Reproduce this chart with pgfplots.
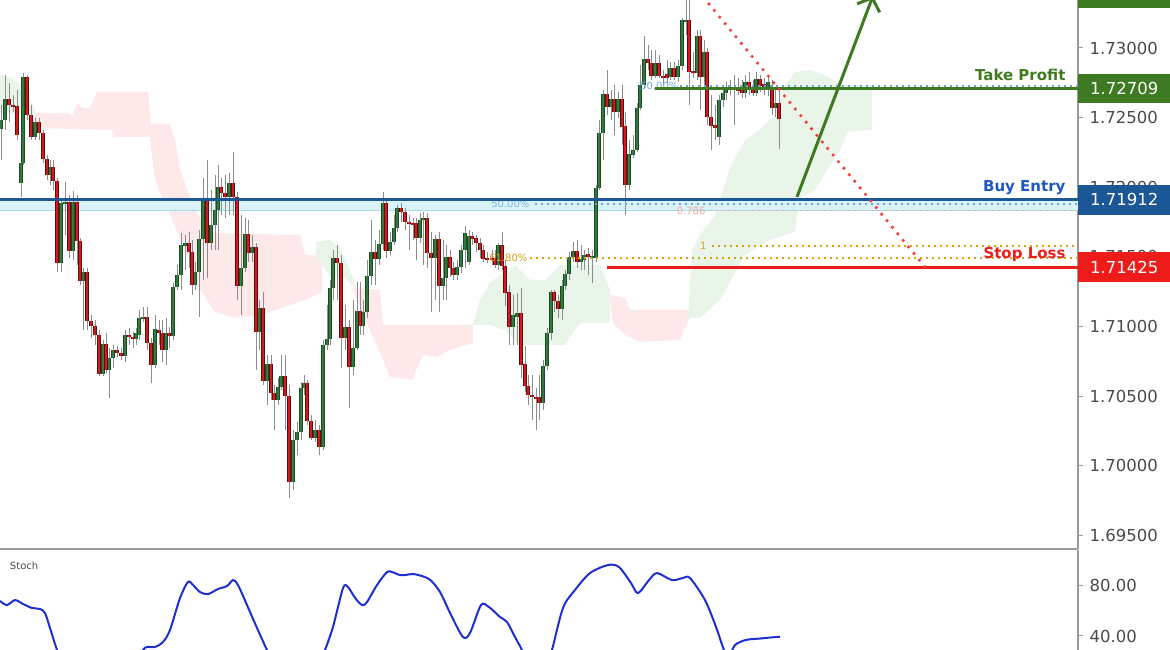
\documentclass[border=0pt]{standalone}
\usepackage{pgfplots}
\pgfplotsset{compat=1.18}
\usepackage{pgfplotstable}
\usepackage{fontspec}
\setmainfont{DejaVu Sans}
\usetikzlibrary{arrows.meta}
\definecolor{upc}{HTML}{2F7A3C}
\definecolor{upd}{HTML}{1D4A25}
\definecolor{dnc}{HTML}{D21A1F}
\definecolor{dnd}{HTML}{5E0B0D}
\definecolor{wick}{HTML}{8C8C8C}
\definecolor{tpg}{HTML}{3D7A22}
\definecolor{tpt}{HTML}{3F7A1E}
\definecolor{beb}{HTML}{1B5797}
\definecolor{bet}{HTML}{1E56C6}
\definecolor{slr}{HTML}{EE1B1B}
\definecolor{cloudr}{HTML}{FDE9E9}
\definecolor{cloudg}{HTML}{EAF5E9}
\definecolor{band}{HTML}{D8F4F8}
\definecolor{bandb}{HTML}{A9DDE5}
\definecolor{fibblue}{HTML}{6FA8DC}
\definecolor{fibgold}{HTML}{D4A21A}
\definecolor{fibpink}{HTML}{F2A6A6}
\definecolor{axisgray}{HTML}{9A9A9A}
\definecolor{ticktext}{HTML}{4A4A4A}
\definecolor{stochc}{HTML}{1F2FCF}
\definecolor{dotred}{HTML}{F23F3F}

\pgfplotstableread{
x h l bt bb
1 1.72591 1.72197 1.72484 1.72419
5 1.72807 1.72412 1.72634 1.72484
21 1.72254 1.71931 1.72175 1.72032
23 1.72821 1.72161 1.72792 1.72175
35 1.72498 1.72340 1.72469 1.72362
50 1.72197 1.72017 1.72146 1.72089
61 1.71910 1.71393 1.71888 1.71457
65 1.72039 1.71658 1.71895 1.71881
73 1.71974 1.71479 1.71895 1.71544
83 1.71422 1.70977 1.71393 1.71328
103 1.70905 1.70646 1.70876 1.70661
109 1.70847 1.70489 1.70776 1.70689
113 1.70869 1.70704 1.70833 1.70776
125 1.70977 1.70747 1.70941 1.70790
136 1.70991 1.70869 1.70955 1.70912
139 1.71120 1.70905 1.71063 1.70941
143 1.71142 1.71034 1.71070 1.71055
155 1.71084 1.70704 1.70984 1.70725
166 1.71063 1.70725 1.70955 1.70833
173 1.71314 1.70905 1.71285 1.70933
177 1.71443 1.71264 1.71371 1.71285
181 1.71673 1.71264 1.71587 1.71371
185 1.71658 1.71407 1.71601 1.71579
195 1.71465 1.71264 1.71393 1.71300
199 1.71694 1.71070 1.71630 1.71393
203 1.72067 1.71335 1.71902 1.71630
211 1.71981 1.71551 1.71730 1.71601
215 1.72089 1.71551 1.71838 1.71730
218 1.72161 1.71551 1.72003 1.71838
229 1.72103 1.71802 1.72032 1.71931
241 1.71802 1.71084 1.71422 1.71292
245 1.71780 1.71393 1.71666 1.71422
252 1.71658 1.71465 1.71572 1.71529
259 1.71192 1.70833 1.71134 1.70962
267 1.70797 1.70438 1.70733 1.70611
278 1.70632 1.70438 1.70567 1.70474
281 1.70797 1.70546 1.70646 1.70567
293 1.70259 1.69828 1.70187 1.69886
297 1.70316 1.70079 1.70245 1.70187
301 1.70603 1.70187 1.70560 1.70245
304 1.70654 1.70510 1.70596 1.70560
315 1.70331 1.70173 1.70259 1.70201
323 1.70905 1.70115 1.70869 1.70137
327 1.71156 1.70833 1.70912 1.70869
330 1.71335 1.70869 1.71278 1.70912
333 1.71551 1.71192 1.71493 1.71278
345 1.71156 1.70833 1.70998 1.70919
353 1.71192 1.70654 1.70847 1.70711
357 1.71321 1.70833 1.71113 1.70847
363 1.71192 1.70941 1.71106 1.71005
367 1.71479 1.71063 1.71364 1.71106
371 1.71766 1.71300 1.71536 1.71364
379 1.71694 1.71443 1.71594 1.71486
383 1.71967 1.71551 1.71888 1.71594
390 1.71680 1.71515 1.71608 1.71544
394 1.71802 1.71587 1.71709 1.71608
397 1.71874 1.71680 1.71852 1.71709
420 1.71816 1.71601 1.71766 1.71637
423 1.71823 1.71443 1.71780 1.71766
435 1.71658 1.71192 1.71630 1.71493
443 1.71623 1.71192 1.71350 1.71292
446 1.71587 1.71192 1.71500 1.71350
457 1.71479 1.71335 1.71429 1.71371
461 1.71587 1.71386 1.71551 1.71429
465 1.71723 1.71422 1.71673 1.71551
469 1.71694 1.71443 1.71651 1.71465
498 1.71601 1.71407 1.71587 1.71443
513 1.71228 1.70869 1.71084 1.70998
517 1.71242 1.70869 1.71099 1.71070
543 1.70761 1.70402 1.70718 1.70453
547 1.70991 1.70689 1.70955 1.70718
551 1.71264 1.70905 1.71249 1.70955
562 1.71335 1.71048 1.71292 1.71127
565 1.71407 1.71264 1.71379 1.71292
569 1.71536 1.71335 1.71500 1.71379
573 1.71608 1.71465 1.71544 1.71500
581 1.71587 1.71407 1.71486 1.71465
584 1.71551 1.71407 1.71515 1.71479
592 1.71551 1.71314 1.71508 1.71493
596 1.72017 1.71465 1.71996 1.71493
599 1.72484 1.71981 1.72390 1.71996
603 1.72699 1.72197 1.72670 1.72390
611 1.72699 1.72484 1.72634 1.72577
618 1.72685 1.72498 1.72634 1.72541
629 1.72340 1.71981 1.72240 1.72017
633 1.72376 1.72211 1.72268 1.72233
637 1.72606 1.72254 1.72570 1.72268
640 1.72878 1.72555 1.72735 1.72570
644 1.73087 1.72713 1.72922 1.72735
655 1.72986 1.72785 1.72893 1.72800
670 1.72900 1.72771 1.72857 1.72792
678 1.72914 1.72756 1.72871 1.72792
682 1.73216 1.72843 1.73202 1.72871
686 1.73345 1.73094 1.73202 1.73187
697 1.73130 1.72771 1.73087 1.72821
704 1.73058 1.72699 1.72972 1.72792
719 1.72663 1.72304 1.72627 1.72362
723 1.72713 1.72577 1.72677 1.72627
726 1.72756 1.72627 1.72706 1.72677
730 1.72771 1.72663 1.72713 1.72699
745 1.72807 1.72642 1.72756 1.72677
756 1.72828 1.72656 1.72778 1.72677
768 1.72807 1.72656 1.72756 1.72713
775 1.72699 1.72505 1.72606 1.72570
}\upcandles

\pgfplotstableread{
x h l bt bb
9 1.72749 1.72469 1.72634 1.72591
13 1.72663 1.72541 1.72591 1.72577
17 1.72699 1.72340 1.72584 1.72376
27 1.72807 1.72484 1.72792 1.72520
31 1.72591 1.72340 1.72520 1.72362
39 1.72498 1.72340 1.72469 1.72390
43 1.72412 1.72175 1.72390 1.72204
47 1.72233 1.72053 1.72204 1.72089
53 1.72197 1.71981 1.72146 1.72046
57 1.72067 1.71393 1.72046 1.71457
69 1.71945 1.71493 1.71895 1.71544
77 1.71945 1.71443 1.71895 1.71615
80 1.71637 1.71300 1.71615 1.71328
87 1.71422 1.70977 1.71393 1.71041
91 1.71084 1.70919 1.71041 1.71005
95 1.71048 1.70869 1.71005 1.70941
99 1.70977 1.70646 1.70941 1.70661
106 1.70955 1.70668 1.70876 1.70689
117 1.70862 1.70783 1.70833 1.70811
121 1.70847 1.70761 1.70811 1.70790
129 1.70991 1.70869 1.70941 1.70926
133 1.70962 1.70847 1.70926 1.70912
147 1.71142 1.70833 1.71070 1.70883
151 1.70919 1.70596 1.70883 1.70725
159 1.71048 1.70869 1.70977 1.70955
162 1.71048 1.70747 1.70955 1.70833
169 1.70998 1.70847 1.70955 1.70933
189 1.71680 1.71422 1.71601 1.71536
192 1.71623 1.71228 1.71536 1.71300
207 1.72197 1.71350 1.71902 1.71601
221 1.72067 1.71802 1.72003 1.71960
225 1.72089 1.71780 1.71960 1.71931
233 1.72254 1.71802 1.72032 1.71931
237 1.71967 1.71192 1.71931 1.71292
248 1.71766 1.71465 1.71666 1.71529
256 1.71601 1.70689 1.71572 1.70962
263 1.71249 1.70582 1.71134 1.70611
271 1.70797 1.70474 1.70733 1.70524
274 1.70582 1.70259 1.70524 1.70474
285 1.70797 1.70259 1.70646 1.70503
289 1.70582 1.69771 1.70503 1.69886
307 1.70618 1.70295 1.70596 1.70323
311 1.70366 1.70187 1.70323 1.70201
319 1.70295 1.70079 1.70259 1.70137
337 1.71587 1.71192 1.71493 1.71457
341 1.71515 1.70704 1.71457 1.70919
349 1.71048 1.70417 1.70998 1.70711
360 1.71321 1.70941 1.71113 1.71005
375 1.71623 1.71300 1.71536 1.71486
386 1.71910 1.71493 1.71888 1.71544
401 1.71888 1.71752 1.71852 1.71823
405 1.71852 1.71694 1.71823 1.71752
409 1.71802 1.71551 1.71752 1.71737
413 1.71780 1.71623 1.71744 1.71730
416 1.71780 1.71479 1.71744 1.71637
427 1.71816 1.71422 1.71780 1.71529
431 1.71680 1.71106 1.71529 1.71493
439 1.71680 1.71106 1.71630 1.71292
450 1.71551 1.71357 1.71500 1.71422
453 1.71465 1.71335 1.71422 1.71371
472 1.71680 1.71587 1.71651 1.71630
476 1.71658 1.71536 1.71637 1.71601
480 1.71637 1.71493 1.71601 1.71551
483 1.71587 1.71465 1.71551 1.71486
487 1.71536 1.71457 1.71493 1.71479
492 1.71551 1.71443 1.71493 1.71479
495 1.71551 1.71422 1.71493 1.71443
502 1.71680 1.71407 1.71587 1.71436
505 1.71479 1.71149 1.71436 1.71242
509 1.71300 1.70869 1.71249 1.70998
521 1.71278 1.70632 1.71099 1.70725
525 1.70862 1.70532 1.70733 1.70575
528 1.70654 1.70438 1.70575 1.70510
532 1.70654 1.70331 1.70510 1.70496
536 1.70560 1.70259 1.70496 1.70481
539 1.70654 1.70331 1.70496 1.70453
554 1.71264 1.71106 1.71249 1.71185
558 1.71228 1.71063 1.71185 1.71127
577 1.71623 1.71422 1.71544 1.71465
588 1.71565 1.71371 1.71522 1.71500
607 1.72843 1.72520 1.72670 1.72577
614 1.72735 1.72376 1.72634 1.72541
622 1.72735 1.72304 1.72634 1.72433
625 1.72541 1.71802 1.72441 1.72017
648 1.73022 1.72843 1.72922 1.72893
651 1.72986 1.72771 1.72893 1.72800
659 1.72950 1.72785 1.72893 1.72800
663 1.72843 1.72735 1.72800 1.72785
667 1.72914 1.72735 1.72814 1.72785
674 1.72900 1.72771 1.72857 1.72792
689 1.73345 1.72591 1.73202 1.72828
693 1.72972 1.72785 1.72835 1.72821
700 1.73130 1.72555 1.73087 1.72792
707 1.73001 1.72448 1.72972 1.72505
711 1.72663 1.72268 1.72505 1.72441
715 1.72591 1.72340 1.72448 1.72426
734 1.72807 1.72448 1.72721 1.72699
738 1.72785 1.72663 1.72713 1.72692
742 1.72771 1.72642 1.72699 1.72677
749 1.72828 1.72663 1.72756 1.72699
753 1.72771 1.72656 1.72721 1.72677
760 1.72807 1.72685 1.72778 1.72728
764 1.72785 1.72663 1.72742 1.72713
772 1.72771 1.72520 1.72706 1.72570
779 1.72699 1.72276 1.72606 1.72491
}\dncandles

\begin{document}
\begin{tikzpicture}
\useasboundingbox (0,0) rectangle (1170pt,-650pt);
\begin{axis}[
  at={(0pt,0pt)}, anchor=north west,
  scale only axis, width=1078pt, height=549pt,
  xmin=0, xmax=1078, ymin=1.69404, ymax=1.733445,
  clip=false,
  axis x line*=bottom, axis y line*=right,
  axis line style={draw=axisgray, line width=1.2pt},
  xtick=\empty,
  ytick={1.695,1.7,1.705,1.71,1.715,1.72,1.725,1.73},
  scaled y ticks=false,
  ytick pos=right, tick align=outside,
  major tick length=5pt,
  tick style={draw=axisgray, line width=1pt},
  yticklabel style={font=\fontsize{16.5}{18}\selectfont, text=ticktext, xshift=3pt,
    /pgf/number format/.cd, fixed, fixed zerofill, precision=5, assume math mode=true},
  candle/.style={draw=none, mark=none, forget plot, error bars/.cd, y dir=plus, y explicit, error mark=none},
]
% Ichimoku clouds
\addplot[fill=cloudg, draw=none] coordinates {(0,1.72807)(12,1.72785)(25,1.72713)(35,1.72555)(35,1.72520)(0,1.72534)} -- cycle;
\addplot[fill=cloudr, draw=none] coordinates {
 (33,1.72534)(68,1.72534)(72,1.72513)(78,1.72606)(82,1.72570)(90,1.72570)(97,1.72685)(148,1.72685)
 (151,1.72455)(170,1.72455)(175,1.72340)(180,1.72125)(195,1.71838)(210,1.71673)(300,1.71658)
 (305,1.71515)(322,1.71508)(322,1.71249)(305,1.71192)(285,1.71142)(260,1.71084)(235,1.71063)
 (215,1.71106)(200,1.71264)(185,1.71551)(170,1.71802)(155,1.72053)(150,1.72362)(113,1.72362)
 (112,1.72412)(33,1.72426)} -- cycle;
\addplot[fill=cloudg, draw=none] coordinates {(316,1.71608)(330,1.71623)(340,1.71565)(350,1.71407)(357,1.71264)(345,1.71350)(330,1.71357)(316,1.71515)} -- cycle;
\addplot[fill=cloudr, draw=none] coordinates {(352,1.71278)(380,1.71264)(383,1.71013)(473,1.71013)(473,1.70883)(450,1.70833)(437,1.70783)(423,1.70797)(412,1.70618)(390,1.70639)(383,1.70761)(370,1.70977)(355,1.71228)} -- cycle;
\addplot[fill=cloudg, draw=none] coordinates {(473,1.71013)(480,1.71192)(490,1.71314)(500,1.71371)(515,1.71443)(530,1.71335)(545,1.71335)(560,1.71443)(600,1.71443)(606,1.71335)(610,1.71264)(610,1.71027)(580,1.71027)(575,1.70977)(565,1.70869)(520,1.70869)(505,1.70977)(490,1.71013)} -- cycle;
\addplot[fill=cloudr, draw=none] coordinates {(610,1.71228)(625,1.71206)(630,1.71120)(690,1.71120)(690,1.71063)(680,1.70905)(640,1.70890)(625,1.70941)(612,1.71034)} -- cycle;
\addplot[fill=cloudg, draw=none] coordinates {(688,1.71063)(692,1.71551)(700,1.71658)(715,1.71802)(730,1.72139)(745,1.72340)(760,1.72412)(775,1.72520)(785,1.72735)(795,1.72828)(810,1.72843)(825,1.72807)(840,1.72735)(872,1.72735)(872,1.72412)(848,1.72398)(840,1.72268)(830,1.72161)(815,1.71981)(800,1.71924)(795,1.71680)(770,1.71623)(745,1.71515)(720,1.71192)(700,1.71063)} -- cycle;
% buy zone band
\addplot[fill=band, draw=none] coordinates {(0,1.71912)(1078,1.71912)(1078,1.71831)(0,1.71831)} -- cycle;
\addplot[bandb, line width=1pt] coordinates {(0,1.71831)(1078,1.71831)};
% candles: wicks
\addplot[candle, error bar style={draw=wick, line width=0.9pt}]
  table[x=x, y=l, y error plus expr=\thisrow{h}-\thisrow{l}] {\upcandles};
\addplot[candle, error bar style={draw=wick, line width=0.9pt}]
  table[x=x, y=l, y error plus expr=\thisrow{h}-\thisrow{l}] {\dncandles};
% bodies
\addplot[candle, error bar style={draw=upd, line width=3.4pt}]
  table[x=x, y=bb, y error plus expr=\thisrow{bt}-\thisrow{bb}] {\upcandles};
\addplot[candle, error bar style={draw=upc, line width=1.7pt}]
  table[x=x, y=bb, y error plus expr=\thisrow{bt}-\thisrow{bb}] {\upcandles};
\addplot[candle, error bar style={draw=dnd, line width=3.4pt}]
  table[x=x, y=bb, y error plus expr=\thisrow{bt}-\thisrow{bb}] {\dncandles};
\addplot[candle, error bar style={draw=dnc, line width=1.7pt}]
  table[x=x, y=bb, y error plus expr=\thisrow{bt}-\thisrow{bb}] {\dncandles};
% fib dotted lines
\addplot[fibblue, line width=1.5pt, dash pattern=on 1.6pt off 4.4pt] coordinates {(535,1.71881)(1078,1.71881)};
\addplot[fibpink, line width=1.5pt, dash pattern=on 1.6pt off 4.4pt] coordinates {(710,1.71834)(1078,1.71834)};
\addplot[fibgold, line width=1.5pt, dash pattern=on 1.6pt off 4.4pt] coordinates {(712,1.71579)(1078,1.71579)};
\addplot[fibgold, line width=1.5pt, dash pattern=on 1.6pt off 4.4pt] coordinates {(530,1.71493)(1078,1.71493)};
\addplot[fibblue, line width=1.5pt, dash pattern=on 1.6pt off 4.4pt] coordinates {(680,1.72728)(1078,1.72728)};
\node[anchor=east, font=\fontsize{10}{10}\selectfont, text=fibblue!85] at (axis cs:533,1.71881) {50.00\%};
\node[anchor=east, font=\fontsize{10}{10}\selectfont, text=fibgold] at (axis cs:531,1.71493) {61.80\%};
\node[anchor=east, font=\fontsize{10}{10}\selectfont, text=fibpink] at (axis cs:709,1.71834) {0.786};
\node[anchor=east, font=\fontsize{10}{10}\selectfont, text=fibgold] at (axis cs:710,1.71579) {1};
\node[anchor=east, font=\fontsize{10}{10}\selectfont, text=fibblue] at (axis cs:682,1.72728) {50.00\%};
% key levels
\addplot[tpg, line width=3pt] coordinates {(655,1.72709)(1078,1.72709)};
\addplot[beb, line width=3pt] coordinates {(0,1.71912)(1078,1.71912)};
\addplot[slr, line width=3pt] coordinates {(607,1.71425)(1078,1.71425)};
% red dotted diagonal
\addplot[dotred, line width=3.6pt, line cap=round, dash pattern=on 0pt off 8.5pt] coordinates {(709,1.73316)(925,1.71429)};
% green arrow
\addplot[tpg, line width=3pt, -{Straight Barb[length=11pt, width=24pt, line width=3pt]}] coordinates {(797,1.71931)(873,1.73374)};
% labels
\node[anchor=east, font=\bfseries\fontsize{15}{15}\selectfont, text=tpt] at (axis cs:1069,1.72709) [yshift=14pt] {Take Profit};
\node[anchor=east, font=\bfseries\fontsize{15}{15}\selectfont, text=bet] at (axis cs:1069,1.71912) [yshift=12pt] {Buy Entry};
\node[anchor=east, font=\bfseries\fontsize{15}{15}\selectfont, text=slr] at (axis cs:1069,1.71425) [yshift=13pt] {Stop Loss};
\coordinate (tpR) at (axis cs:1078,1.72709);
\coordinate (beR) at (axis cs:1078,1.71912);
\coordinate (slR) at (axis cs:1078,1.71425);
\coordinate (topR) at (axis cs:1078,1.73288);
\end{axis}

\begin{axis}[
  at={(0pt,-550pt)}, anchor=north west,
  scale only axis, width=1078pt, height=100pt,
  xmin=0, xmax=1078, ymin=29, ymax=107.5,
  axis x line=none, axis y line*=right,
  axis line style={draw=axisgray, line width=1.2pt},
  ytick={40,80},
  ytick pos=right, tick align=outside,
  major tick length=5pt,
  tick style={draw=axisgray, line width=1pt},
  yticklabel style={font=\fontsize{16.5}{18}\selectfont, text=ticktext, xshift=3pt,
    /pgf/number format/.cd, fixed, fixed zerofill, precision=2, assume math mode=true},
]
\addplot[stochc, line width=2pt, smooth, tension=0.5] coordinates {
(0,67.5)(7,64.3)(15,68.2)(23,65.1)(32,62.0)(40,61.2)(45,58.0)(50,46.3)(57,29.0)(63,18)(70,12)
(130,12)(138,20)(143,29)(147,31.4)(155,31.4)(163,35.3)(170,44.7)(180,69.8)(188,82.4)(193,80)
(200,74.5)(208,72.9)(218,76.9)(227,79.2)(233,83.9)(238,80)(247,64.3)(257,46.3)(267,29)(274,18)
(280,12)(312,12)(320,20)(325,29)(333,47.1)(343,77.6)(348,78.4)(355,70)(362,64.3)(367,66.7)
(377,80)(387,90.2)(392,90.2)(400,87.8)(405,87.8)(414,88.6)(429,84.7)(440,74.5)(451,56.5)
(463,39.2)(470,42.4)(481,64.3)(489,62.7)(500,54.9)(507,51)(515,39.2)(522,29)(528,18)(547,18)
(552,29)(563,62)(575,76.1)(590,89.4)(608,95.7)(619,94.1)(631,81.6)(638,73.7)(649,83.9)
(657,89.4)(672,83.9)(683,85.5)(690,85.5)(705,68.2)(716,47.1)(724,29)(729,24)(735,32.9)
(746,36.9)(760,38)(776,39.2)(780,39.2)};
\node[anchor=west, font=\fontsize{10}{10}\selectfont, text=ticktext] at (rel axis cs:0.006,0.84) {Stoch};
\end{axis}

% price label boxes
\node[fill=tpg, anchor=south west, minimum width=92pt, minimum height=24pt, inner sep=0pt] at (topR) {};
\node[fill=tpg, text=white, anchor=west, minimum width=92pt, minimum height=29pt, inner sep=0pt, font=\fontsize{16.5}{18}\selectfont] at (tpR) {1.72709};
\node[fill=beb, text=white, anchor=west, minimum width=92pt, minimum height=30pt, inner sep=0pt, font=\fontsize{16.5}{18}\selectfont] at (beR) {1.71912};
\node[fill=slr, text=white, anchor=west, minimum width=92pt, minimum height=30pt, inner sep=0pt, font=\fontsize{16.5}{18}\selectfont] at (slR) {1.71425};
\end{tikzpicture}
\end{document}
